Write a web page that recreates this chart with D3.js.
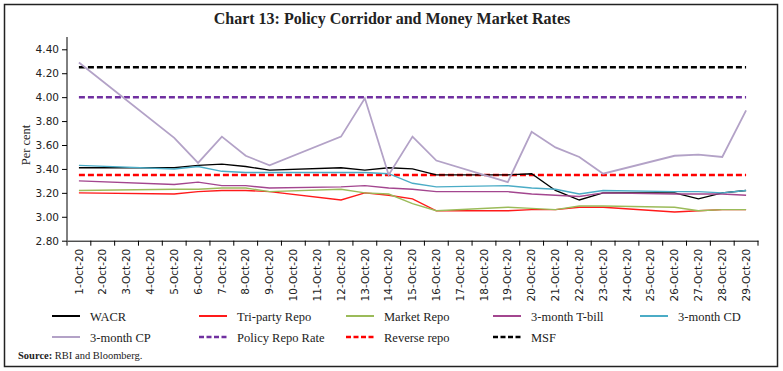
<!DOCTYPE html>
<html>
<head>
<meta charset="utf-8">
<script src="https://cdn.jsdelivr.net/npm/d3@7"></script>
<style>
  body { margin: 0; background: #fff; }
  svg { display: block; }
</style>
</head>
<body>
<div class="canvas"></div>
<script>
// categories: every calendar day shown on the axis
const dates = ['1-Oct-20', '2-Oct-20', '3-Oct-20', '4-Oct-20', '5-Oct-20', '6-Oct-20', '7-Oct-20',
  '8-Oct-20', '9-Oct-20', '10-Oct-20', '11-Oct-20', '12-Oct-20', '13-Oct-20', '14-Oct-20',
  '15-Oct-20', '16-Oct-20', '17-Oct-20', '18-Oct-20', '19-Oct-20', '20-Oct-20', '21-Oct-20',
  '22-Oct-20', '23-Oct-20', '24-Oct-20', '25-Oct-20', '26-Oct-20', '27-Oct-20', '28-Oct-20',
  '29-Oct-20'];

// market rates (null = no trading that day, line joins across)
const wacr = [3.41, null, null, null, 3.41, 3.43, 3.44, 3.42, 3.39, null, null, 3.41, 3.39, 3.41,
  3.40, 3.35, null, null, 3.35, 3.36, 3.22, 3.14, 3.20, null, null, 3.20, 3.15, 3.20, 3.22];
const triParty = [3.20, null, null, null, 3.19, 3.21, 3.22, 3.22, 3.21, null, null, 3.14, 3.20, 3.18,
  3.15, 3.05, null, null, 3.05, 3.06, 3.06, 3.08, 3.08, null, null, 3.04, 3.05, 3.06, 3.06];
const marketRepo = [3.22, null, null, null, 3.23, 3.23, 3.24, 3.24, 3.21, null, null, 3.23, 3.20, 3.19,
  3.11, 3.05, null, null, 3.08, 3.07, 3.06, 3.09, 3.09, null, null, 3.08, 3.05, 3.06, 3.06];
const tBill = [3.30, null, null, null, 3.27, 3.29, 3.26, 3.26, 3.24, null, null, 3.25, 3.26, 3.24,
  3.23, 3.21, null, null, 3.21, 3.19, 3.18, 3.17, 3.20, null, null, 3.19, 3.19, 3.19, 3.18];
const cd = [3.43, null, null, null, 3.40, 3.42, 3.38, 3.37, 3.37, null, null, 3.37, 3.37, 3.36,
  3.28, 3.25, null, null, 3.26, 3.24, 3.23, 3.19, 3.22, null, null, 3.21, 3.21, 3.20, 3.22];
const cp = [4.29, null, null, null, 3.66, 3.45, 3.67, 3.51, 3.43, null, null, 3.67, 3.99, 3.35,
  3.67, 3.47, null, null, 3.29, 3.71, 3.58, 3.50, 3.36, null, null, 3.51, 3.52, 3.50, 3.89];

// policy corridor (flat through the month)
const policyRepo = 4.00;
const reverseRepo = 3.35;
const msf = 4.25;

const yTicks = [2.80, 3.00, 3.20, 3.40, 3.60, 3.80, 4.00, 4.20, 4.40];

const series = [
  { name: 'WACR', values: wacr, color: '#000000' },
  { name: 'Tri-party Repo', values: triParty, color: '#ff1a1a' },
  { name: 'Market Repo', values: marketRepo, color: '#9bbb59' },
  { name: '3-month T-bill', values: tBill, color: '#a3468f' },
  { name: '3-month CD', values: cd, color: '#4bacc6' },
  { name: '3-month CP', values: cp, color: '#b3a2c7' }
];
const corridor = [
  { name: 'Policy Repo Rate', value: policyRepo, color: '#7030a0' },
  { name: 'Reverse repo', value: reverseRepo, color: '#ff0000' },
  { name: 'MSF', value: msf, color: '#000000' }
];

const width = 783, height = 371;
const svg = d3.select('.canvas')
  .append('svg')
  .attr('width', width)
  .attr('height', height);

// outer frame
svg.append('rect')
  .attr('x', 4.5).attr('y', 4.5)
  .attr('width', 773).attr('height', 362)
  .attr('fill', 'none')
  .attr('stroke', '#222')
  .attr('stroke-width', 1.5);

svg.append('text')
  .text('Chart 13: Policy Corridor and Money Market Rates')
  .attr('x', 392).attr('y', 24)
  .attr('text-anchor', 'middle')
  .attr('font-family', 'Liberation Serif, serif')
  .attr('font-weight', 'bold')
  .attr('font-size', 16)
  .attr('fill', '#222');

// scales
const plot = { left: 67, right: 758, top: 49.3, bottom: 240.7 };
const x = d3.scaleBand().domain(dates).range([plot.left, plot.right]);
const y = d3.scaleLinear().domain([2.8, 4.4]).range([plot.bottom, plot.top]);
const cx = d => x(d) + x.bandwidth() / 2;

// y axis
const yAxisGroup = svg.append('g')
  .attr('transform', `translate(${plot.left},0)`)
  .call(d3.axisLeft(y).tickValues(yTicks).tickFormat(d3.format('.2f')).tickSize(5).tickPadding(3));
yAxisGroup.select('.domain').remove();
yAxisGroup.selectAll('text')
  .attr('font-family', 'DejaVu Sans, sans-serif')
  .attr('font-size', 10.5)
  .attr('fill', '#222');
svg.append('line')
  .attr('x1', plot.left).attr('x2', plot.left)
  .attr('y1', 37).attr('y2', plot.bottom)
  .attr('stroke', '#000');

svg.append('text')
  .text('Per cent')
  .attr('transform', `translate(30,${(plot.top + plot.bottom) / 2}) rotate(-90)`)
  .attr('text-anchor', 'middle')
  .attr('font-family', 'Liberation Serif, serif')
  .attr('font-size', 12.5)
  .attr('fill', '#222');

// x axis: labels at band centres, tick marks on band edges
const xAxisGroup = svg.append('g')
  .attr('transform', `translate(0,${plot.bottom})`)
  .call(d3.axisBottom(x).tickSize(0).tickSizeOuter(0));
xAxisGroup.select('.domain').attr('stroke', '#000');
xAxisGroup.selectAll('text')
  .attr('transform', 'rotate(-90)')
  .attr('text-anchor', 'end')
  .attr('x', -8)
  .attr('y', 0)
  .attr('dy', '0.35em')
  .attr('font-family', 'DejaVu Sans, sans-serif')
  .attr('font-size', 10.5)
  .attr('fill', '#222');
xAxisGroup.selectAll('.edge')
  .data(dates.concat(['end']))
  .enter()
  .append('line')
  .attr('x1', (d, i) => plot.left + i * x.bandwidth())
  .attr('x2', (d, i) => plot.left + i * x.bandwidth())
  .attr('y1', 0).attr('y2', 5)
  .attr('stroke', '#000');

// corridor lines
svg.selectAll('.corridor')
  .data(corridor)
  .enter()
  .append('line')
  .attr('x1', cx(dates[0]))
  .attr('x2', cx(dates[dates.length - 1]))
  .attr('y1', d => y(d.value))
  .attr('y2', d => y(d.value))
  .attr('stroke', d => d.color)
  .attr('stroke-width', 2.5)
  .attr('stroke-dasharray', '6,3');

// market rate lines
const line = d3.line()
  .x(d => cx(d.date))
  .y(d => y(d.value));

series.forEach(s => {
  const pts = dates.map((d, i) => ({ date: d, value: s.values[i] }))
    .filter(p => p.value !== null);
  svg.append('path')
    .datum(pts)
    .attr('fill', 'none')
    .attr('stroke', s.color)
    .attr('stroke-width', s.name === '3-month CP' ? 1.8 : 1.4)
    .attr('d', line);
});

// legend
const legendItems = series.map(s => ({ name: s.name, color: s.color, dash: false }))
  .concat(corridor.map(c => ({ name: c.name, color: c.color, dash: true })));
const legend = svg.append('g');
legendItems.forEach((d, i) => {
  const col = i % 5, row = Math.floor(i / 5);
  const lx = 52 + col * 147, ly = 316 + row * 21;
  legend.append('line')
    .attr('x1', lx).attr('x2', lx + 28)
    .attr('y1', ly).attr('y2', ly)
    .attr('stroke', d.color)
    .attr('stroke-width', d.dash ? 2.5 : 2)
    .attr('stroke-dasharray', d.dash ? '5,2.5' : null);
  legend.append('text')
    .text(d.name)
    .attr('x', lx + 38).attr('y', ly + 4.5)
    .attr('font-family', 'Liberation Serif, serif')
    .attr('font-size', 12.5)
    .attr('fill', '#222');
});

// source note
const src = svg.append('text')
  .attr('x', 18).attr('y', 359)
  .attr('font-family', 'Liberation Serif, serif')
  .attr('font-size', 10.5)
  .attr('fill', '#222');
src.append('tspan').attr('font-weight', 'bold').text('Source: ');
src.append('tspan').text('RBI and Bloomberg.');
</script>
</body>
</html>
